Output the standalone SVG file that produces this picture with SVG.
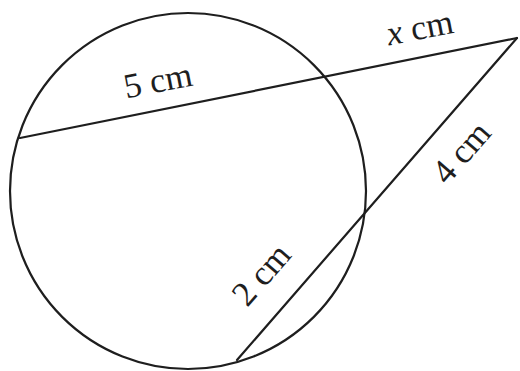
<svg xmlns="http://www.w3.org/2000/svg" width="520" height="371" viewBox="0 0 520 371">
<style>
.ln{fill:none;stroke:#1e1e1e;stroke-width:2.2;stroke-linecap:round}
.lb{font-family:"Liberation Serif","Times New Roman",serif;font-size:35px;fill:#1e1e1e;text-anchor:middle}
</style>
<rect width="520" height="371" fill="#fff"/>
<g id="circle">
<circle class="ln" cx="188" cy="191" r="178"/>
</g>
<g id="connectors">
<line id="secant1" class="ln" x1="20" y1="138" x2="517" y2="38"/>
<line id="secant2" class="ln" x1="517" y1="38" x2="237" y2="360"/>
</g>
<g id="labels">
<text class="lb" transform="translate(160,92) rotate(-11)">5 cm</text>
<text class="lb" transform="translate(422,39) rotate(-11)"><tspan font-style="italic">x</tspan> cm</text>
<text class="lb" transform="translate(470,160) rotate(-49)">4 cm</text>
<text class="lb" transform="translate(270,282) rotate(-49)">2 cm</text>
</g>
</svg>
